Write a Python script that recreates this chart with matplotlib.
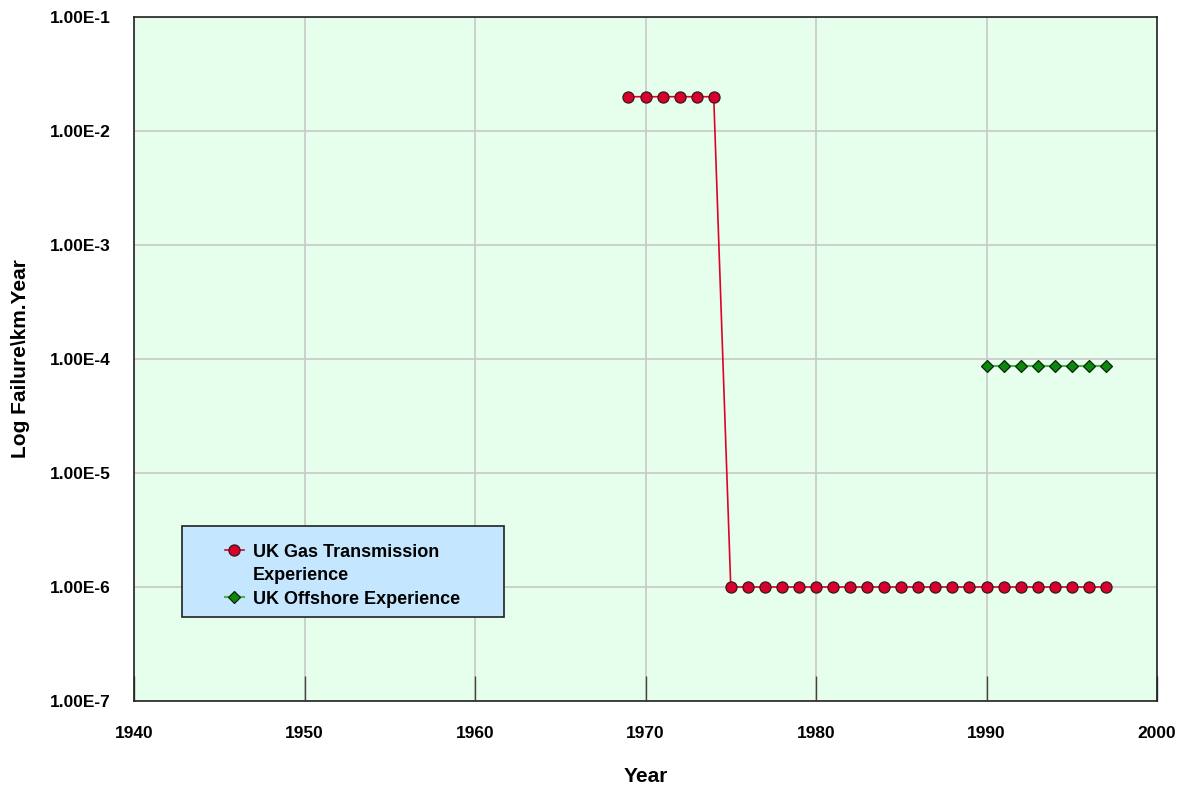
import matplotlib
matplotlib.use("Agg")
import matplotlib.pyplot as plt
from matplotlib.ticker import FixedLocator, FuncFormatter
from matplotlib.lines import Line2D
from matplotlib.patches import Rectangle

plt.rcParams['font.family'] = ['Liberation Sans', 'DejaVu Sans']
plt.rcParams['font.weight'] = 'bold'

# data
gas_years = list(range(1969, 1998))
gas_rate = [2e-2] * 6 + [1e-6] * 23
off_years = list(range(1990, 1998))
off_rate = [8.7e-5] * 8

fig = plt.figure(figsize=(11.9, 7.85), dpi=100)
ax = fig.add_axes([0.1126, 0.107, 0.8597, 0.8713])
ax.set_facecolor('#E6FEEC')

gas, = ax.plot(gas_years, gas_rate, color='#E0002C', lw=1.2, marker='o', ms=8,
               mfc='#D8002E', mec='#3a1a1a', mew=0.9, zorder=3)
off, = ax.plot(off_years, off_rate, color='#45B545', lw=1.5, marker='D', ms=6.5,
               mfc='#0A8A0A', mec='#102010', mew=0.9, zorder=3)

ax.set_yscale('log')
ax.set_xlim(1940, 2000)
ax.set_ylim(1e-7, 1e-1)
ax.xaxis.set_major_locator(FixedLocator(range(1940, 2001, 10)))
ax.yaxis.set_major_locator(FixedLocator([10.0**k for k in range(-7, 0)]))
ax.yaxis.set_minor_locator(FixedLocator([]))
ax.yaxis.set_major_formatter(FuncFormatter(lambda v, p: ('%.2E' % v).replace('E-0', 'E-')))

ax.grid(True, color='#C8C8C8', lw=1.2)
ax.tick_params(axis='x', direction='in', length=18, width=1, pad=18, labelsize=12.5, color='#444444')
ax.tick_params(axis='y', direction='in', length=0, pad=17, labelsize=12.5)
for s in ax.spines.values():
    s.set_linewidth(1.2)
    s.set_color('#222222')

ax.set_xlabel('Year', fontsize=15, fontweight='bold', labelpad=19)
ax.set_ylabel('Log Failure\\km.Year', fontsize=15, fontweight='bold', labelpad=14)

# legend box
ax.add_patch(Rectangle((0.0469, 0.1228), 0.3148, 0.1330, transform=ax.transAxes,
                       facecolor='#C4E6FF', edgecolor='#222222', lw=1.2, zorder=4))
blank = Line2D([], [], linestyle='none')
leg = ax.legend([gas, blank, off], ['UK Gas Transmission', 'Experience', 'UK Offshore Experience'],
                loc='upper left', bbox_to_anchor=(0.0885, 0.230), frameon=False,
                fontsize=13, handlelength=1.1, handletextpad=0.45, borderpad=0,
                labelspacing=0.36, borderaxespad=0)
leg.set_zorder(5)

fig.savefig('out.png', dpi=100)
